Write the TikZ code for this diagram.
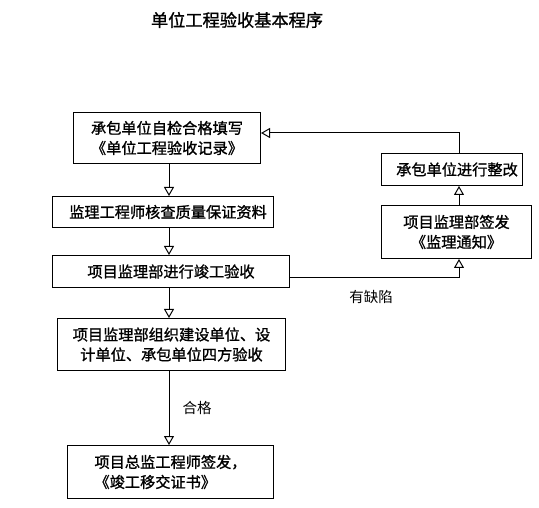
\documentclass[tikz,border=0pt]{standalone}
\usepackage{fontspec}
\usetikzlibrary{arrows.meta}
\newfontfamily\cjk{Noto Sans CJK SC}
\newfontfamily\cjkb[FakeBold=1.2]{Noto Sans CJK SC}
\begin{document}
\begin{tikzpicture}[x=1pt,y=-1pt,
  box/.style={draw,line width=1pt,inner sep=0pt,font=\cjkb\fontsize{15.2}{20}\selectfont,align=center,anchor=north west},
  lbl/.style={font=\cjk\fontsize{14.5}{18}\selectfont,inner sep=0pt},
  arr/.style={line width=1pt,-{Triangle[open,length=9pt,width=10pt,fill=white]}},
  con/.style={line width=1pt}]
\useasboundingbox (0,0) rectangle (539,508);
\node[font=\cjkb\fontsize{17.2}{20}\selectfont,inner sep=0pt] (title) at (237,20) {单位工程验收基本程序};
\node[box,minimum width=187pt,minimum height=51pt] (b1) at (73,112) {承包单位自检合格填写\\《单位工程验收记录》};
\node[box,minimum width=221pt,minimum height=31pt] (b2) at (52,196) {\hspace*{10pt}监理工程师核查质量保证资料};
\node[box,minimum width=237pt,minimum height=32pt] (b3) at (52,255) {项目监理部进行竣工验收};
\node[box,minimum width=228pt,minimum height=52pt] (b4) at (57,318) {项目监理部组织建设单位、设\\计单位、承包单位四方验收};
\node[box,minimum width=206pt,minimum height=53pt,align=left] (b5) at (67,445) {项目总监工程师签发，\\《竣工移交证书》};
\node[box,minimum width=141pt,minimum height=32pt] (r1) at (381,153) {\hspace*{10pt}承包单位进行整改};
\node[box,minimum width=150pt,minimum height=53pt] (r2) at (381,205) {项目监理部签发\\《监理通知》};
\node[lbl] (l1) at (371,297) {有缺陷};
\node[lbl] (l2) at (197,408) {合格};
\coordinate (ax) at (169,0);
\coordinate (rx) at (459,0);
\coordinate (ylow) at (0,278);
\coordinate (ytop) at (0,133);
\draw[arr] (b1.south -| ax) -- (b2.north -| ax);
\draw[arr] (b2.south -| ax) -- (b3.north -| ax);
\draw[arr] (b3.south -| ax) -- (b4.north -| ax);
\draw[arr] (b4.south -| ax) -- (b5.north -| ax);
\draw[arr] (b3.east |- ylow) -- (rx |- ylow) -- (r2.south -| rx);
\draw[arr] (r2.north -| rx) -- (r1.south -| rx);
\draw[arr] (r1.north -| rx) -- (rx |- ytop) -- (b1.east |- ytop);
\end{tikzpicture}
\end{document}
